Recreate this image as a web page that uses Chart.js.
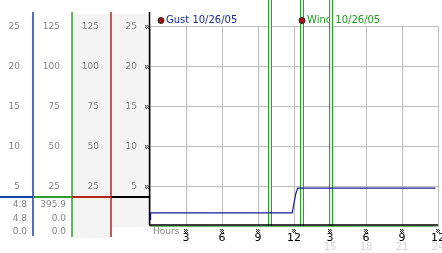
<!DOCTYPE html>
<html>
<head>
<meta charset="utf-8">
<script src="https://cdn.jsdelivr.net/npm/chart.js@4"></script>
<style>
  body { margin: 0; background: #fff; }
  #wrap { width: 442px; height: 253px; }
</style>
</head>
<body>
<div id="wrap"><canvas id="windChart" width="442" height="253"></canvas></div>
<script>
// hours of the day (0-24) and readings
const hourTicks = [3, 6, 9, 12, 15, 18, 21, 24];
const hourLabels = ['3', '6', '9', '12', '3', '6', '9', '12'];
const hourLabels2 = ['', '', '', '', '15', '18', '21', '24'];

const gustHours = [0, 0.05, 11.85, 12.15, 12.3, 23.8];
const gustValues = [0.9, 1.7, 1.7, 4.1, 4.8, 4.8];

const windHours = [0, 23.8];
const windValues = [0, 0];

const eventHours = [9.96, 12.67, 15.08];

const tickValues = [25, 20, 15, 10, 5];
const gustTickLabels = ['25', '20', '15', '10', '5'];
const windTickLabels = ['125', '100', '75', '50', '25'];
const dirTickLabels = ['125', '100', '75', '50', '25'];
const speedTickLabels = ['25', '20', '15', '10', '5'];

const gustReadout = ['4.8', '4.8', '0.0'];
const windReadout = ['395.9', '0.0', '0.0'];

const BLUE = '#1c3fa6';
const GREEN = '#2e9e2e';
const RED = '#b02424';

function marker(ctx, cx, cy) {
    // little hatched tick mark
    ctx.save();
    ctx.fillStyle = '#333';
    let pat = [[1,0,1,0],[0,1,0,1],[1,0,1,0],[0,1,0,1]];
    for (let r = 0; r < 4; r++) {
        for (let c = 0; c < 4; c++) {
            if (pat[r][c]) ctx.fillRect(Math.round(cx - 2) + c, Math.round(cy - 2) + r, 1, 1);
        }
    }
    ctx.restore();
}

const legends = [[161, 'Gust 10/26/05', '#1a2a9c'], [302, 'Wind 10/26/05', '#229a22']];

const decor = {
    id: 'decor',
    beforeDatasetsDraw(chart) {
        let ctx = chart.ctx;
        let x = chart.scales.x;
        let y = chart.scales.y;
        ctx.save();
        // legend text
        ctx.font = '10px "DejaVu Sans"';
        ctx.textBaseline = 'middle';
        ctx.textAlign = 'left';
        legends.forEach(function(l) {
            ctx.fillStyle = l[2];
            ctx.fillText(l[1], l[0] + 5, 20.5);
        });
        // event lines
        let bottom = y.getPixelForValue(0);
        eventHours.forEach(function(h) {
            let px = Math.round(x.getPixelForValue(h));
            ctx.fillStyle = GREEN;
            ctx.fillRect(px - 2, 0, 4, bottom);
            ctx.fillStyle = '#e4f2e4';
            ctx.fillRect(px - 1, 0, 2, bottom);
        });
        // legend dots on top
        legends.forEach(function(l) {
            ctx.beginPath();
            ctx.arc(l[0], 20.5, 3, 0, Math.PI * 2);
            ctx.fillStyle = '#b01010';
            ctx.fill();
            ctx.lineWidth = 1;
            ctx.strokeStyle = '#222';
            ctx.stroke();
        });
        ctx.restore();
    },
    afterDraw(chart) {
        let ctx = chart.ctx;
        let x = chart.scales.x;
        let y = chart.scales.y;
        let y0 = y.getPixelForValue(0);
        ctx.save();
        // left panel backgrounds
        ctx.fillStyle = '#f4f4f4';
        ctx.fillRect(73, 14, 38, 224);
        ctx.fillRect(112, 14, 36, 213);
        // column lines
        ctx.lineWidth = 1.5;
        [[33, 12, 236, BLUE], [72, 12, 237, GREEN], [111, 12, 237, RED], [149.5, 12, y0 - 1, '#000']].forEach(function(c) {
            ctx.strokeStyle = c[3];
            ctx.beginPath();
            ctx.moveTo(c[0], c[1]);
            ctx.lineTo(c[0], c[2]);
            ctx.stroke();
        });
        // separator
        ctx.lineWidth = 2;
        [[0, 33, BLUE], [33, 72, GREEN], [72, 111, RED], [111, 150, '#000']].forEach(function(s) {
            ctx.strokeStyle = s[2];
            ctx.beginPath();
            ctx.moveTo(s[0], 197);
            ctx.lineTo(s[1], 197);
            ctx.stroke();
        });
        // x axis line
        ctx.lineWidth = 1.5;
        ctx.strokeStyle = '#000';
        ctx.beginPath();
        ctx.moveTo(149, y0 - 1.5);
        ctx.lineTo(x.right, y0 - 1.5);
        ctx.stroke();

        // column tick labels
        ctx.font = '9px "DejaVu Sans"';
        ctx.textAlign = 'right';
        ctx.textBaseline = 'middle';
        tickValues.forEach(function(v, i) {
            let py = y.getPixelForValue(v) + 0.5;
            ctx.fillStyle = '#858585';
            ctx.fillText(gustTickLabels[i], 20, py);
            ctx.fillText(windTickLabels[i], 60, py);
            ctx.fillText(dirTickLabels[i], 99, py);
            ctx.fillText(speedTickLabels[i], 137, py);
            marker(ctx, 146.5, py);
        });
        // readouts
        ctx.fillStyle = '#858585';
        [205, 219, 232].forEach(function(py, i) {
            ctx.fillText(gustReadout[i], 27, py);
            ctx.fillText(windReadout[i], 66, py);
        });

        // x labels
        ctx.textAlign = 'left';
        ctx.fillStyle = '#8a8a8a';
        ctx.fillText('Hours', 153, 232);
        ctx.textAlign = 'center';
        hourTicks.forEach(function(h, i) {
            let px = x.getPixelForValue(h);
            marker(ctx, px, 230.5);
            ctx.font = '11px "DejaVu Sans"';
            ctx.fillStyle = '#000';
            ctx.fillText(hourLabels[i], px, 238.5);
            ctx.font = '10px "DejaVu Sans"';
            ctx.fillStyle = '#d4d4d4';
            ctx.fillText(hourLabels2[i], px, 247);
        });
        ctx.restore();
    }
};

let ctx = document.getElementById('windChart').getContext('2d');
let windChart = new Chart(ctx, {
    type: 'line',
    data: {
        datasets: [{
            label: 'Gust',
            data: gustHours.map(function(h, i) { return {x: h, y: gustValues[i]}; }),
            borderColor: '#1a1a9a',
            borderWidth: 1.2,
            pointRadius: 0,
            tension: 0
        }, {
            label: 'Wind',
            data: windHours.map(function(h, i) { return {x: h, y: windValues[i]}; }),
            borderColor: '#33b033',
            borderWidth: 1.5,
            pointRadius: 0,
            tension: 0
        }]
    },
    options: {
        responsive: false,
        animation: false,
        events: [],
        layout: { padding: { left: 150, right: 4, top: 26.5, bottom: 26.5 } },
        plugins: { legend: { display: false }, tooltip: { enabled: false } },
        scales: {
            x: {
                type: 'linear',
                min: 0,
                max: 24,
                ticks: { display: false, stepSize: 3 },
                grid: { color: '#bdbdbd', drawTicks: false },
                border: { display: false }
            },
            y: {
                min: 0,
                max: 25,
                ticks: { display: false, stepSize: 5 },
                grid: { color: '#bdbdbd', drawTicks: false },
                border: { display: false }
            }
        }
    },
    plugins: [decor]
});
</script>
</body>
</html>
